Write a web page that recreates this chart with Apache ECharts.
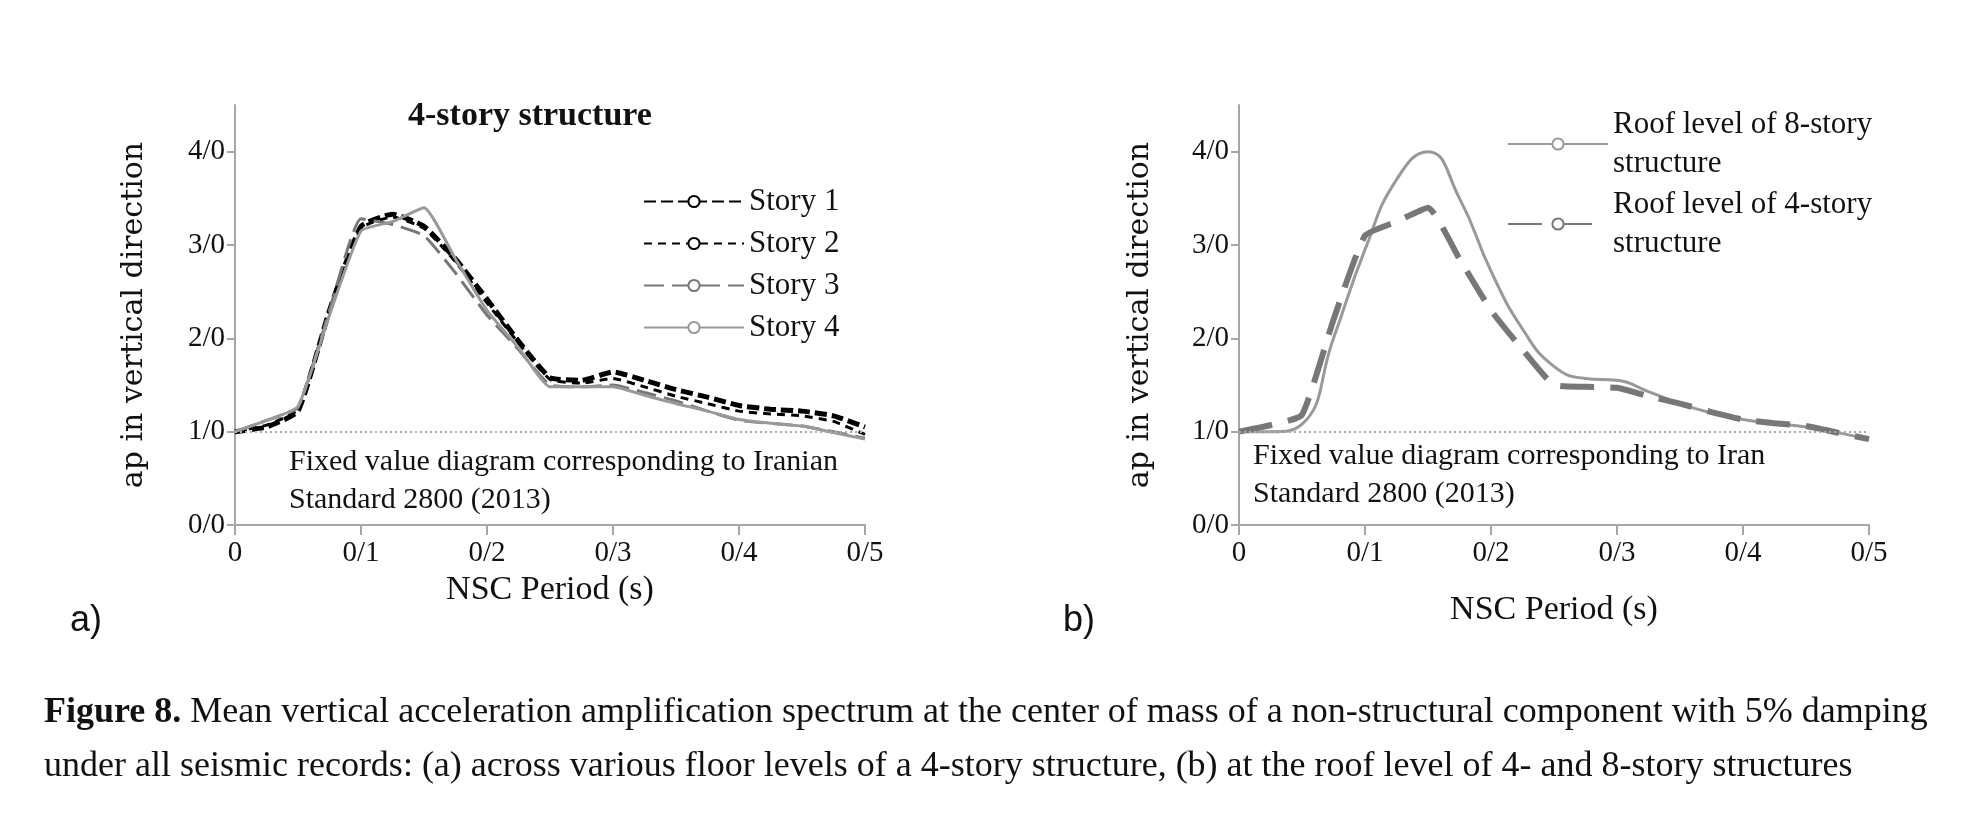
<!DOCTYPE html>
<html>
<head>
<meta charset="utf-8">
<script src="https://cdn.jsdelivr.net/npm/echarts@6/dist/echarts.min.js"></script>
<style>html,body{margin:0;background:#fff}#c{width:1975px;height:824px}</style>
</head>
<body>
<div id="c"></div>
<script>
// periods (s)
var periods = [0, 0.025, 0.05, 0.075, 0.1, 0.125, 0.15, 0.175, 0.2, 0.225, 0.25, 0.275, 0.3, 0.325, 0.35, 0.375, 0.4, 0.425, 0.45, 0.475, 0.5];
var story1 = [1.0, 1.05, 1.22, 2.3, 3.2, 3.33, 3.2, 2.85, 2.42, 1.97, 1.58, 1.55, 1.64, 1.55, 1.45, 1.37, 1.28, 1.24, 1.22, 1.17, 1.05];
var story2 = [1.0, 1.07, 1.24, 2.3, 3.18, 3.3, 3.18, 2.82, 2.38, 1.95, 1.56, 1.52, 1.57, 1.48, 1.38, 1.3, 1.22, 1.19, 1.17, 1.11, 0.97];
var story3 = [1.0, 1.12, 1.26, 2.3, 3.28, 3.22, 3.1, 2.7, 2.25, 1.88, 1.5, 1.48, 1.5, 1.42, 1.33, 1.22, 1.12, 1.09, 1.06, 1.0, 0.93];
var story4 = [1.0, 1.12, 1.27, 2.25, 3.15, 3.25, 3.4, 2.85, 2.3, 1.9, 1.48, 1.48, 1.48, 1.39, 1.3, 1.22, 1.13, 1.09, 1.06, 0.99, 0.92];
var roof8 = [1.0, 1.0, 1.08, 2.0, 2.95, 3.7, 4.0, 3.5, 2.72, 2.1, 1.7, 1.57, 1.55, 1.43, 1.3, 1.2, 1.13, 1.09, 1.05, 0.99, 0.92];
var roof4 = [1.0, 1.07, 1.18, 2.2, 3.1, 3.25, 3.4, 2.85, 2.3, 1.88, 1.5, 1.48, 1.47, 1.38, 1.3, 1.21, 1.13, 1.09, 1.06, 0.99, 0.92];
var xTicks = ['0', '0/1', '0/2', '0/3', '0/4', '0/5'];
var yTicks = ['0/0', '1/0', '2/0', '3/0', '4/0'];
var fixedLevel = 1.0;

function pts(arr){ return periods.map(function(p, i){ return [p, arr[i]]; }); }

var serif = 'Liberation Serif';
var axisGrey = '#a6a6a6';
function xAxis(idx, gap){
    return {
        type: 'value', gridIndex: idx, min: 0, max: 0.5, interval: 0.1,
        name: 'NSC Period (s)', nameLocation: 'middle', nameGap: gap,
        nameTextStyle: {fontFamily: serif, fontSize: 34, color: '#111'},
        axisLine: {lineStyle: {color: axisGrey, width: 2}},
        axisTick: {show: true, length: 10, lineStyle: {color: axisGrey, width: 2}},
        axisLabel: {fontFamily: serif, fontSize: 29, color: '#111', margin: 14,
            formatter: function(v){ return xTicks[Math.round(v * 10)]; }},
        splitLine: {show: false}
    };
}
function yAxis(idx, gap){
    return {
        type: 'value', gridIndex: idx, min: 0, max: 4.5, interval: 1,
        name: 'ap in vertical direction', nameLocation: 'middle', nameGap: gap,
        nameTextStyle: {fontFamily: 'DejaVu Serif', fontSize: 30, color: '#111'},
        axisLine: {show: true, lineStyle: {color: axisGrey, width: 2}},
        axisTick: {show: true, length: 8, lineStyle: {color: axisGrey, width: 2}},
        axisLabel: {fontFamily: serif, fontSize: 29, color: '#111', margin: 10, showMaxLabel: false,
            formatter: function(v){ return yTicks[Math.round(v)] || ''; }},
        splitLine: {show: false}
    };
}
function line(name, data, idx, color, width, dash, smooth){
    return {
        name: name, type: 'line', xAxisIndex: idx, yAxisIndex: idx, data: pts(data),
        showSymbol: false, smooth: smooth, z: 3,
        lineStyle: {color: color, width: width, type: dash, cap: 'butt'},
        itemStyle: {color: color}
    };
}
function fixedLine(idx){
    return {
        name: 'fixed', type: 'line', xAxisIndex: idx, yAxisIndex: idx, data: [],
        markLine: {silent: true, symbol: 'none', label: {show: false},
            lineStyle: {color: '#aaa', width: 2, type: [2, 3]},
            data: [{yAxis: fixedLevel}]}
    };
}

var chart = echarts.init(document.getElementById('c'));
chart.setOption({
    animation: false,
    grid: [
        {left: 235, top: 105, width: 630, height: 420},
        {left: 1239, top: 105, width: 630, height: 420}
    ],
    xAxis: [xAxis(0, 48), xAxis(1, 68)],
    yAxis: [yAxis(0, 86), yAxis(1, 84)],
    legend: [
        {left: 638, top: 181, orient: 'vertical', itemWidth: 100, itemHeight: 14, itemGap: 11,
            selectedMode: false,
            textStyle: {fontFamily: serif, fontSize: 31, color: '#111'},
            data: ['Story 1', 'Story 2', 'Story 3', 'Story 4']},
        {left: 1502, top: 100, orient: 'vertical', itemWidth: 100, itemHeight: 14, itemGap: 2,
            selectedMode: false,
            textStyle: {fontFamily: serif, fontSize: 31, color: '#111', lineHeight: 39},
            data: ['Roof level of 8-story\nstructure', 'Roof level of 4-story\nstructure']}
    ],
    series: [
        fixedLine(0), fixedLine(1),
        line('Story 1', story1, 0, '#000', 5, [12, 5], 0.15),
        line('Story 2', story2, 0, '#000', 3, [8, 6], 0.15),
        line('Story 3', story3, 0, '#777', 3, [20, 8], 0.15),
        line('Story 4', story4, 0, '#999', 3, 'solid', 0.15),
        line('Roof level of 8-story\nstructure', roof8, 1, '#999', 3, 'solid', 0.5),
        line('Roof level of 4-story\nstructure', roof4, 1, '#777', 6, [34, 16], 0.15)
    ],
    graphic: [
        {type: 'text', left: 408, top: 99, style: {text: '4-story structure', font: 'bold 34px "Liberation Serif"', fill: '#111'}},
        {type: 'text', left: 289, top: 443, style: {text: 'Fixed value diagram corresponding to Iranian\nStandard 2800 (2013)', font: '30px "Liberation Serif"', lineHeight: 38, fill: '#111'}},
        {type: 'text', left: 1253, top: 437, style: {text: 'Fixed value diagram corresponding to Iran\nStandard 2800 (2013)', font: '30px "Liberation Serif"', lineHeight: 38, fill: '#111'}},
        {type: 'text', left: 70, top: 603, style: {text: 'a)', font: '36px "Liberation Sans"', fill: '#111'}},
        {type: 'text', left: 1063, top: 603, style: {text: 'b)', font: '36px "Liberation Sans"', fill: '#111'}},
        {type: 'text', left: 44, top: 695, style: {
            text: '{b|Figure 8.} Mean vertical acceleration amplification spectrum at the center of mass of a non-structural component with 5% damping',
            font: '36px "Liberation Serif"', fill: '#111',
            rich: {b: {fontFamily: serif, fontSize: 36, fontWeight: 'bold', fill: '#111'}}}},
        {type: 'text', left: 44, top: 749, style: {
            text: 'under all seismic records: (a) across various floor levels of a 4-story structure, (b) at the roof level of 4- and 8-story structures',
            font: '36px "Liberation Serif"', fill: '#111'}}
    ]
});
</script>
</body>
</html>
